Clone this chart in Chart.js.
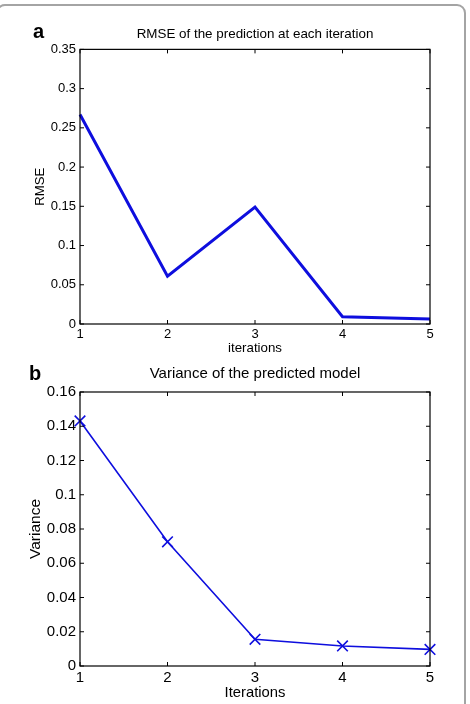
<!DOCTYPE html>
<html>
<head>
<meta charset="utf-8">
<script src="https://cdn.jsdelivr.net/npm/chart.js@4.4.0/dist/chart.umd.min.js"></script>
<style>
  html, body { margin: 0; padding: 0; background: #fff; width: 470px; height: 704px; overflow: hidden; }
  .frame { position: absolute; left: -4px; top: 4px; width: 470px; height: 760px; box-sizing: border-box;
           border: 2px solid #a4a4a4; border-radius: 9px; }
  .box { position: absolute; left: 0; width: 470px; }
  #boxA { top: 0; height: 360px; }
  #boxB { top: 350px; height: 354px; }
</style>
</head>
<body>
<div class="frame"></div>
<div class="box" id="boxA"><canvas id="chartA"></canvas></div>
<div class="box" id="boxB"><canvas id="chartB"></canvas></div>
<script>
// ---- data ----
const iterations = ['1', '2', '3', '4', '5'];
const rmseValues = [0.267, 0.061, 0.149, 0.0093, 0.0064];
const varianceValues = [0.1431, 0.0725, 0.0156, 0.0117, 0.0097];
const rmseTicks = [0, 0.05, 0.1, 0.15, 0.2, 0.25, 0.3, 0.35];
const varianceTicks = [0, 0.02, 0.04, 0.06, 0.08, 0.1, 0.12, 0.14, 0.16];

const FONT = "'Liberation Sans', Arial, Helvetica, sans-serif";

// inward tick marks + box around plot area + panel letter
function framePlugin(letter, lx, ly) {
  return {
    id: 'frame' + letter,
    afterDraw(chart) {
      const {ctx, chartArea: a, scales} = chart;
      ctx.save();
      ctx.strokeStyle = '#000';
      ctx.lineWidth = 1.2;
      ctx.strokeRect(a.left, a.top, a.right - a.left, a.bottom - a.top);
      ctx.lineWidth = 1;
      const L = 4;
      ctx.beginPath();
      scales.y.ticks.forEach(t => {
        const y = scales.y.getPixelForValue(t.value);
        ctx.moveTo(a.left, y); ctx.lineTo(a.left + L, y);
        ctx.moveTo(a.right, y); ctx.lineTo(a.right - L, y);
      });
      scales.x.ticks.forEach((t, i) => {
        const x = scales.x.getPixelForTick(i);
        ctx.moveTo(x, a.bottom); ctx.lineTo(x, a.bottom - L);
        ctx.moveTo(x, a.top); ctx.lineTo(x, a.top + L);
      });
      ctx.stroke();
      ctx.fillStyle = '#000';
      ctx.font = 'bold 20px ' + FONT;
      ctx.textBaseline = 'alphabetic';
      ctx.fillText(letter, lx, ly);
      ctx.restore();
    }
  };
}

function makeChart(id, cfg) {
  return new Chart(document.getElementById(id), {
    type: 'line',
    data: {
      labels: iterations,
      datasets: [{
        data: cfg.values,
        borderColor: cfg.color,
        backgroundColor: cfg.color,
        borderWidth: cfg.lineWidth,
        pointStyle: cfg.pointStyle,
        pointRadius: cfg.pointRadius,
        pointBorderWidth: cfg.pointBorderWidth,
        pointBorderColor: cfg.color,
        tension: 0,
        clip: false
      }]
    },
    options: {
      responsive: true,
      maintainAspectRatio: false,
      animation: false,
      events: [],
      layout: { padding: { left: 0, right: 40, top: 0, bottom: 0 } },
      plugins: {
        legend: { display: false },
        tooltip: { enabled: false },
        title: {
          display: true,
          text: cfg.title,
          fullSize: false,
          color: '#000',
          font: { family: FONT, size: cfg.titleSize, weight: 'normal' },
          padding: cfg.titlePad
        }
      },
      scales: {
        x: {
          type: 'category',
          offset: false,
          grid: { display: false, drawTicks: false },
          border: { display: false },
          ticks: { color: '#000', font: { family: FONT, size: cfg.tickSize }, padding: cfg.xTickPad, maxRotation: 0, autoSkip: false },
          title: { display: true, text: cfg.xTitle, color: '#000', font: { family: FONT, size: cfg.xTitleSize }, padding: { top: 0, bottom: cfg.xTitlePadBottom } },
          afterFit: s => { s.height = cfg.xHeight; }
        },
        y: {
          min: cfg.yTicks[0],
          max: cfg.yTicks[cfg.yTicks.length - 1],
          afterBuildTicks: s => { s.ticks = cfg.yTicks.map(v => ({ value: v })); },
          grid: { display: false, drawTicks: false },
          border: { display: false },
          ticks: { color: '#000', font: { family: FONT, size: cfg.tickSize }, padding: 4,
                   callback: v => String(+v.toFixed(2)) },
          title: { display: true, text: cfg.yTitle, color: '#000', font: { family: FONT, size: cfg.yTitleSize }, padding: { top: cfg.yTitlePadTop, bottom: 0 } },
          afterFit: s => { s.width = 80; }
        }
      }
    },
    plugins: [framePlugin(cfg.letter, cfg.letterX, cfg.letterY)]
  });
}

makeChart('chartA', {
  values: rmseValues, yTicks: rmseTicks, color: 'rgb(14,14,222)', lineWidth: 3,
  pointStyle: 'circle', pointRadius: 0, pointBorderWidth: 0,
  title: 'RMSE of the prediction at each iteration', titleSize: 13.4,
  titlePad: { top: 26, bottom: 7.3 },
  tickSize: 13, xTickPad: 2.2,
  xTitle: 'iterations', xTitleSize: 13.3, xTitlePadBottom: 4, xHeight: 36,
  yTitle: 'RMSE', yTitleSize: 13.2, yTitlePadTop: 32.1,
  letter: 'a', letterX: 33, letterY: 38
});

makeChart('chartB', {
  values: varianceValues, yTicks: varianceTicks, color: 'rgb(14,14,222)', lineWidth: 1.6,
  pointStyle: 'crossRot', pointRadius: 7.5, pointBorderWidth: 1.6,
  title: 'Variance of the predicted model', titleSize: 15,
  titlePad: { top: 15, bottom: 9 },
  tickSize: 15, xTickPad: 3.3,
  xTitle: 'Iterations', xTitleSize: 14.8, xTitlePadBottom: 2.1, xHeight: 38,
  yTitle: 'Variance', yTitleSize: 15.5, yTitlePadTop: 26.7,
  letter: 'b', letterX: 29, letterY: 30
});
</script>
</body>
</html>
